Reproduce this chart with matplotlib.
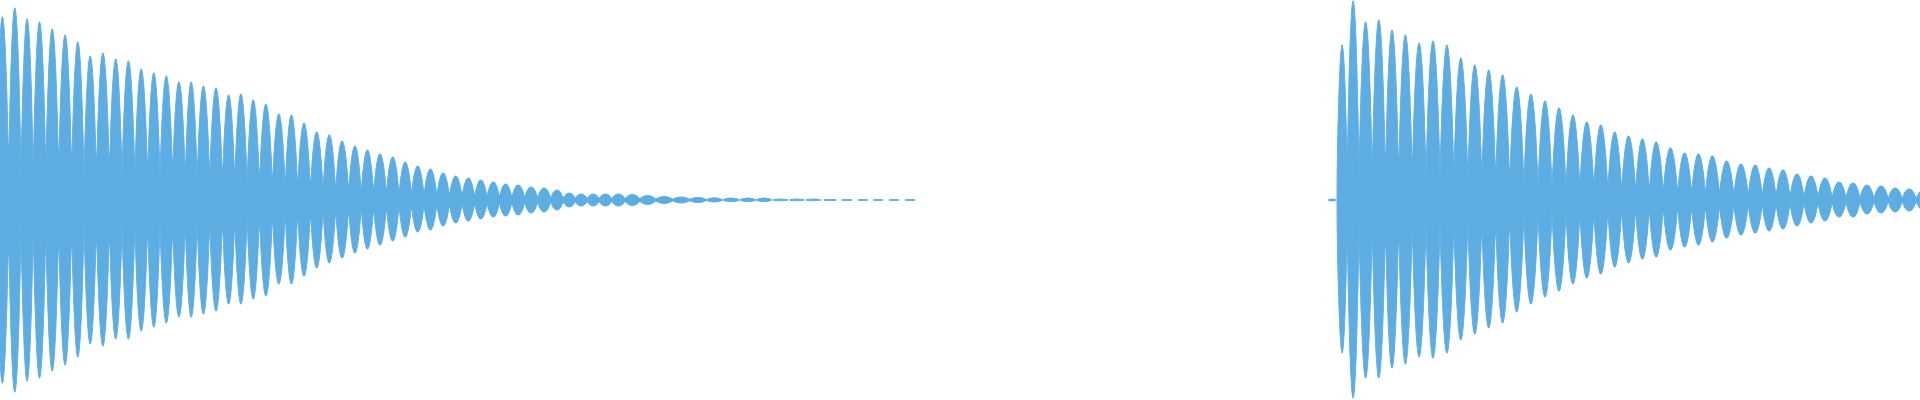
import numpy as np
import matplotlib
matplotlib.use("Agg")
import matplotlib.pyplot as plt

# waveform read as beat lobes: centre time (ms), peak above / below zero, floor between lobes
# amplitudes are in full-scale units (-1 .. 1)
left_t = [6, 37, 68, 98, 131, 162, 196, 224, 258, 289, 321, 353, 385, 415, 448, 478, 508, 540, 572, 602, 633,
          664, 698, 728, 760, 792, 823, 855, 888, 918, 950, 982, 1013, 1044, 1076, 1108, 1139, 1171, 1202, 1233, 1264,
          1295, 1328, 1360, 1393, 1423, 1453, 1483, 1513, 1545, 1580, 1618, 1660, 1703, 1745, 1785, 1828, 1870, 1910,
          1950, 1993, 2033, 2075, 2118, 2158, 2195, 2235, 2275]
left_top = [0.915, 0.96, 0.905, 0.89, 0.855, 0.825, 0.79, 0.72, 0.735, 0.705, 0.695, 0.655, 0.635, 0.62, 0.59, 0.59,
            0.57, 0.56, 0.525, 0.53, 0.5,
            0.48, 0.43, 0.425, 0.385, 0.34, 0.325, 0.295, 0.27, 0.25, 0.23, 0.215, 0.19, 0.17, 0.155, 0.135, 0.12,
            0.11, 0.1, 0.09, 0.08,
            0.075, 0.065, 0.06, 0.05, 0.035, 0.03, 0.03, 0.03, 0.03, 0.0275, 0.0225, 0.0175, 0.015, 0.0125, 0.011,
            0.01, 0.01, 0.01, 0.005, 0.005, 0.005, 0.003, 0.0025, 0.0025, 0.0025, 0.0025, 0.0025]
left_bot = [0.915, 0.96, 0.905, 0.89, 0.855, 0.825, 0.785, 0.72, 0.73, 0.695, 0.695, 0.655, 0.635, 0.615, 0.585, 0.585,
            0.57, 0.555, 0.52, 0.52, 0.495,
            0.48, 0.42, 0.42, 0.38, 0.34, 0.315, 0.29, 0.265, 0.245, 0.225, 0.205, 0.185, 0.16, 0.15, 0.13, 0.115,
            0.105, 0.095, 0.085, 0.08,
            0.075, 0.065, 0.06, 0.05, 0.035, 0.03, 0.03, 0.03, 0.03, 0.0275, 0.0225, 0.0175, 0.015, 0.0125, 0.01,
            0.008, 0.008, 0.008, 0.004, 0.004, 0.004, 0.003, 0.0025, 0.0025, 0.0025, 0.0025, 0.0025]
left_floor = [0.08, 0.08, 0.075, 0.08, 0.085, 0.08, 0.07, 0.07, 0.08, 0.085, 0.085, 0.075, 0.075, 0.085, 0.08, 0.06,
              0.075, 0.055, 0.045, 0.065, 0.04,
              0.035, 0.03, 0.025, 0.025, 0.0225, 0.02, 0.0175, 0.0165, 0.015, 0.015, 0.0135, 0.0125, 0.0115, 0.011,
              0.01, 0.0095, 0.0085, 0.008, 0.0075, 0.007,
              0.0065, 0.006, 0.0055, 0.005, 0.005, 0.0045, 0.004, 0.004, 0.0035, 0.0035, 0.003, 0.003, 0.0025, 0.0025,
              0, 0, 0, 0, 0, 0, 0, 0, 0, 0, 0, 0, 0]

right_t = [3331, 3354, 3382, 3413, 3448, 3479, 3514, 3547, 3583, 3617, 3652, 3687, 3722, 3756, 3792, 3827, 3863,
           3897, 3933, 3966, 4003, 4036, 4072, 4106, 4140, 4176, 4212, 4246, 4281, 4316, 4353, 4388, 4423, 4457,
           4493, 4527, 4563, 4597, 4633, 4667, 4703, 4738, 4773, 4808]
right_top = [0.005, 0.775, 0.995, 0.89, 0.9, 0.85, 0.825, 0.785, 0.795, 0.775, 0.71, 0.675, 0.65, 0.625, 0.565, 0.53,
             0.495, 0.46, 0.425, 0.39, 0.375,
             0.34, 0.32, 0.305, 0.29, 0.26, 0.235, 0.23, 0.22, 0.195, 0.18, 0.175, 0.16, 0.15, 0.13, 0.12, 0.11,
             0.09, 0.085, 0.075, 0.07, 0.06, 0.055, 0.05]
right_bot = [0.005, 0.765, 0.99, 0.89, 0.89, 0.84, 0.82, 0.785, 0.79, 0.765, 0.7, 0.67, 0.64, 0.615, 0.56, 0.52,
             0.485, 0.455, 0.42, 0.39, 0.37,
             0.335, 0.315, 0.295, 0.285, 0.25, 0.235, 0.225, 0.21, 0.19, 0.175, 0.165, 0.155, 0.145, 0.13, 0.115,
             0.105, 0.085, 0.085, 0.07, 0.065, 0.06, 0.055, 0.05]
right_floor = [0, 0.075, 0.08, 0.075, 0.065, 0.06, 0.06, 0.065, 0.065, 0.07, 0.06, 0.06, 0.06, 0.045, 0.045, 0.035,
               0.025, 0.025, 0.035, 0.035, 0.025,
               0.02, 0.02, 0.02, 0.015, 0.015, 0.015, 0.012, 0.012, 0.01, 0.01, 0.0075, 0.0075, 0.005, 0.005,
               0.005, 0.005, 0.004, 0.004, 0.003, 0.003, 0.0025, 0.0025, 0.0025]

wave_color = '#5dade2'
t_max = 4800


def lobes(t, centers, tops, bots, floors, p=0.7):
    # each beat lobe drawn as a (slightly widened) half-sine bulge between its neighbours' midpoints
    c = np.asarray(centers, float)
    edges = np.concatenate([[c[0] - (c[1] - c[0]) / 2], (c[1:] + c[:-1]) / 2, [c[-1] + (c[-1] - c[-2]) / 2]])
    up = np.zeros_like(t)
    dn = np.zeros_like(t)
    for i in range(len(c)):
        m = (t >= edges[i]) & (t < edges[i + 1])
        s = np.sin(np.pi * (t[m] - edges[i]) / (edges[i + 1] - edges[i])) ** p
        up[m] = floors[i] + (tops[i] - floors[i]) * s
        dn[m] = floors[i] + (bots[i] - floors[i]) * s
    return up, dn


t = np.arange(0, t_max, 0.25)
lu, ld = lobes(t, left_t, left_top, left_bot, left_floor)
ru, rd = lobes(t, right_t, right_top, right_bot, right_floor)
up = lu + ru
dn = ld + rd

fig = plt.figure(figsize=(19.2, 4), dpi=100)
ax = fig.add_axes([0, 0, 1, 1])
ax.fill_between(t, -dn, up, where=up >= 0.00175, color=wave_color, edgecolor=wave_color, lw=0.6)
ax.set_xlim(0, t_max)
ax.set_ylim(-1, 1)
ax.axis('off')
fig.savefig('out.png', dpi=100, facecolor='white')
